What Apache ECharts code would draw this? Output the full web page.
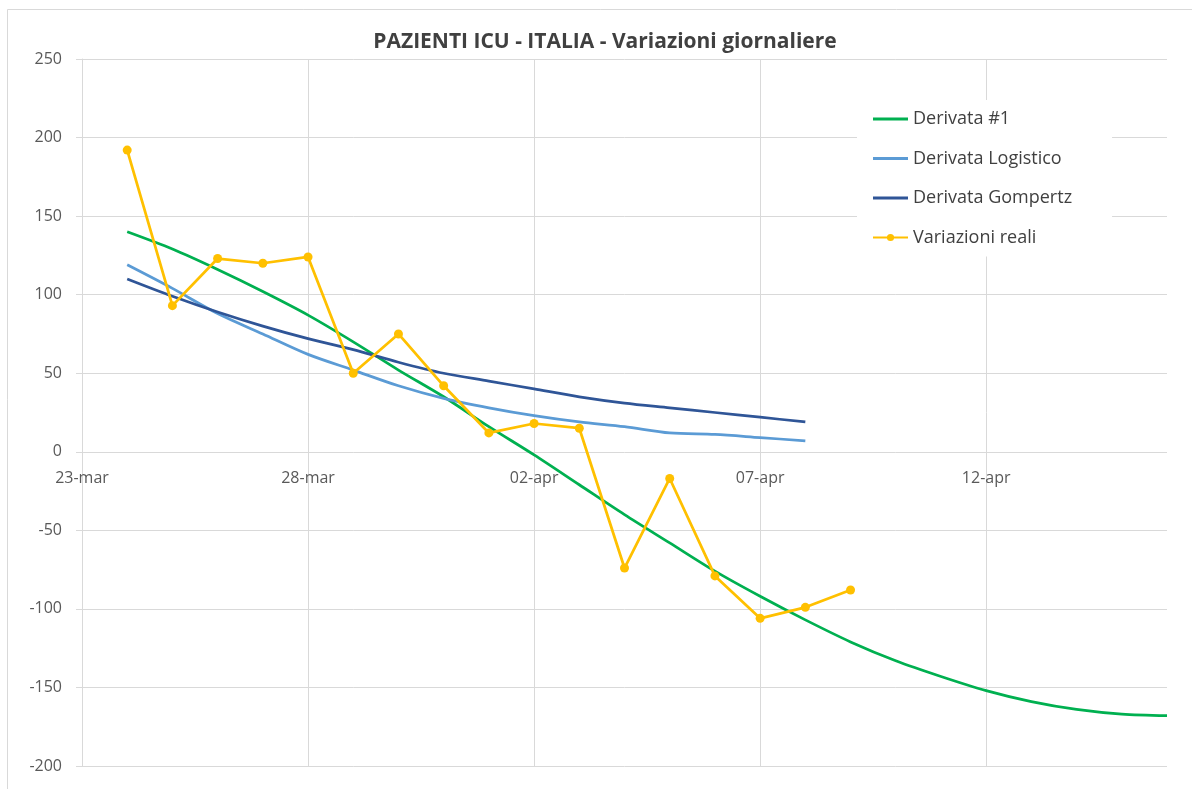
<!DOCTYPE html>
<html>
<head>
<meta charset="utf-8">
<title>PAZIENTI ICU - ITALIA</title>
<script src="https://cdn.jsdelivr.net/npm/echarts@6/dist/echarts.min.js"></script>
<style>
  html, body { margin: 0; padding: 0; background: #fff; }
  #chart { width: 1192px; height: 789px; }
</style>
</head>
<body>
<div id="chart"></div>
<script>
// giorni sull'asse x (23-mar .. 16-apr)
var days = ['23-mar','24-mar','25-mar','26-mar','27-mar','28-mar','29-mar','30-mar','31-mar',
  '01-apr','02-apr','03-apr','04-apr','05-apr','06-apr','07-apr','08-apr','09-apr','10-apr',
  '11-apr','12-apr','13-apr','14-apr','15-apr','16-apr'];

// Derivata #1
var derivata1 = [null, 140, 129, 116, 102, 87, 70, 52, 35, 16, -2, -21, -40, -58, -76, -92,
  -107, -121, -133, -143, -152, -159, -164, -167, -168];

// Derivata Logistico
var logistico = [null, 119, 104, 88, 75, 62, 52, 42, 34, 28, 23, 19, 16, 12, 11, 9, 7];

// Derivata Gompertz
var gompertz = [null, 110, 99, 89, 80, 72, 65, 57, 50, 45, 40, 35, 31, 28, 25, 22, 19];

// Variazioni reali
var reali = [null, 192, 93, 123, 120, 124, 50, 75, 42, 12, 18, 15, -74, -17, -79, -106, -99, -88];

var yTicks = { min: -200, max: 250, step: 50 };

var FONT = '"Open Sans", "Noto Sans", sans-serif';
var gridColor = '#d9d9d9';
var textColor = '#595959';

var gridTop = 59, gridBottom = 23, chartH = 789;
var plotH = chartH - gridTop - gridBottom;
// etichette dell'asse x sulla linea dello zero
var zeroOffset = -plotH * (0 - yTicks.min) / (yTicks.max - yTicks.min);

// icona legenda: solo linea (box 35x9)
var lineIcon = 'path://M0,0 M35,9 M0,3.1 L35,3.1 L35,5.9 L0,5.9 Z';

var chart = echarts.init(document.getElementById('chart'));

var option = {
  backgroundColor: '#fff',
  animation: false,
  textStyle: { fontFamily: FONT },
  title: {
    text: 'PAZIENTI ICU - ITALIA - Variazioni giornaliere',
    left: 600,
    textAlign: 'center',
    top: 27,
    textStyle: { fontFamily: FONT, fontSize: 21, fontWeight: 'bold', color: '#404040' }
  },
  graphic: [{
    type: 'rect',
    shape: { x: 7.5, y: 9.5, width: 1200, height: 800 },
    style: { fill: 'none', stroke: gridColor, lineWidth: 1 },
    silent: true,
    z: -10
  }],
  legend: {
    orient: 'vertical',
    left: 857,
    top: 100,
    padding: [10, 40, 10, 15],
    backgroundColor: '#fff',
    itemWidth: 35,
    itemHeight: 9,
    itemGap: 21.5,
    textStyle: { fontFamily: FONT, fontSize: 18, color: '#404040' },
    data: [
      { name: 'Derivata #1', icon: lineIcon },
      { name: 'Derivata Logistico', icon: lineIcon },
      { name: 'Derivata Gompertz', icon: lineIcon },
      { name: 'Variazioni reali' }
    ]
  },
  grid: { left: 82, right: 25, top: gridTop, bottom: gridBottom, outerBoundsMode: 'none', containLabel: false },
  xAxis: {
    type: 'category',
    data: days,
    boundaryGap: false,
    position: 'bottom',
    offset: zeroOffset,
    axisLine: { show: false },
    axisTick: { show: false },
    axisLabel: { interval: 4, margin: 19, fontSize: 16, color: textColor, fontFamily: FONT },
    splitLine: { show: true, interval: 4, lineStyle: { color: gridColor, width: 1 } }
  },
  yAxis: {
    type: 'value',
    min: yTicks.min,
    max: yTicks.max,
    interval: yTicks.step,
    axisLine: { show: true, lineStyle: { color: gridColor, width: 1 } },
    axisTick: { show: true, length: 6, lineStyle: { color: gridColor } },
    axisLabel: { margin: 20, fontSize: 16, color: textColor, fontFamily: FONT },
    splitLine: { show: true, lineStyle: { color: gridColor, width: 1 } }
  },
  series: [
    {
      name: 'Derivata #1', type: 'line', data: derivata1,
      smooth: 0.3, symbol: 'none',
      lineStyle: { color: '#00B050', width: 2.75 }, itemStyle: { color: '#00B050' }
    },
    {
      name: 'Derivata Logistico', type: 'line', data: logistico,
      smooth: 0.3, symbol: 'none',
      lineStyle: { color: '#5B9BD5', width: 2.75 }, itemStyle: { color: '#5B9BD5' }
    },
    {
      name: 'Derivata Gompertz', type: 'line', data: gompertz,
      smooth: 0.3, symbol: 'none',
      lineStyle: { color: '#2F5597', width: 2.75 }, itemStyle: { color: '#2F5597' }
    },
    {
      name: 'Variazioni reali', type: 'line', data: reali,
      symbol: 'circle', symbolSize: 9,
      lineStyle: { color: '#FFC000', width: 2.75 }, itemStyle: { color: '#FFC000' }
    }
  ]
};

chart.setOption(option);
</script>
</body>
</html>
